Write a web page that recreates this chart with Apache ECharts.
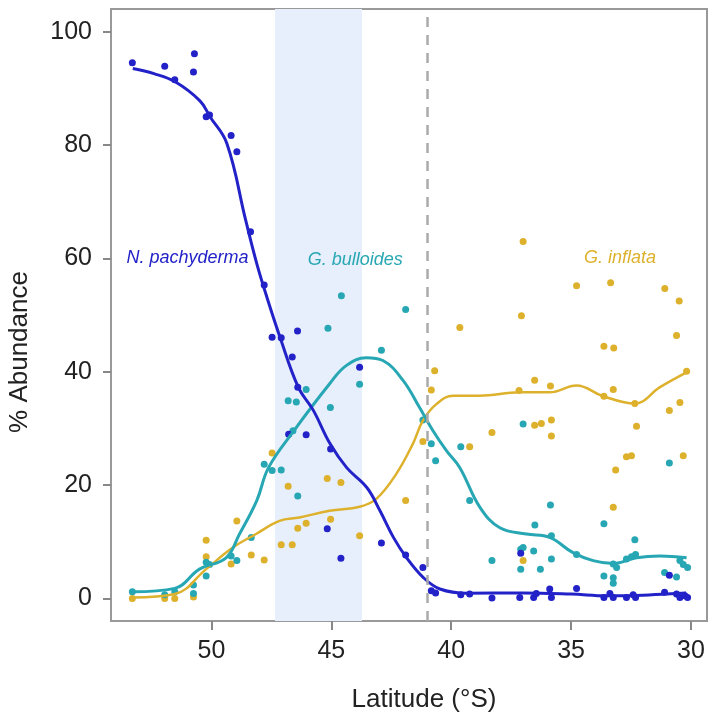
<!DOCTYPE html>
<html>
<head>
<meta charset="utf-8">
<script src="https://cdn.jsdelivr.net/npm/echarts@6/dist/echarts.min.js"></script>
<style>
  html, body { margin: 0; padding: 0; background: #fff; }
  #chart { width: 709px; height: 714px; }
</style>
</head>
<body>
<div id="chart"></div>
<script>
// latitude ticks and abundance ticks
var xTicks = [50, 45, 40, 35, 30];
var yTicks = [0, 20, 40, 60, 80, 100];

// shaded band and dashed front
var bandRange = [47.35, 43.72];
var frontLat = 41.0;

// N. pachyderma samples [lat, %]
var pachyPts = [[53.3,94.5],[51.95,93.9],[50.71,96.1],[50.75,92.9],[51.53,91.5],[50.22,85.0],[50.08,85.3],
  [49.18,81.7],[48.94,78.8],[48.37,64.7],[47.8,55.3],[47.47,46.1],[47.09,46.0],[46.63,42.6],[46.41,47.2],
  [46.4,37.3],[43.82,40.8],[46.78,29.0],[46.05,28.9],[45.03,26.4],[45.17,12.3],[44.6,7.1],[42.91,9.8],
  [41.9,7.7],[41.18,5.5],[40.83,1.4],[40.65,1.0],[39.6,0.7],[39.23,0.8],[38.3,0.1],[37.1,8.0],[37.14,0.2],
  [36.56,0.2],[36.45,0.9],[35.89,1.7],[35.82,0.2],[34.77,1.8],[33.63,0.2],[33.38,0.9],[33.24,0.2],
  [32.69,0.2],[32.41,0.7],[32.31,0.2],[31.1,1.1],[30.9,4.1],[30.6,0.8],[30.46,0.2],[30.25,0.5],[30.14,0.2]];
// G. bulloides samples
var bullPts = [[53.3,1.2],[51.95,0.7],[51.53,1.2],[50.75,2.4],[50.75,0.9],[50.22,6.4],[50.08,6.0],[50.22,4.0],
  [49.18,7.5],[48.94,6.7],[48.34,10.8],[47.8,23.7],[47.47,22.6],[47.09,22.7],[46.4,18.1],[46.8,34.9],
  [46.46,34.7],[44.58,53.4],[45.14,47.7],[46.05,36.9],[45.04,33.7],[43.82,37.8],[42.91,43.8],[41.9,51.0],
  [41.18,31.5],[40.83,27.3],[46.6,29.6],[40.65,24.3],[39.6,26.8],[39.23,17.3],[38.3,6.7],[37.0,30.8],
  [37.1,8.7],[37.0,9.0],[37.1,5.2],[36.51,13.0],[36.56,8.4],[36.28,5.2],[35.86,16.5],[35.82,11.1],
  [35.82,7.0],[34.77,7.8],[33.63,13.2],[33.63,4.0],[33.24,6.1],[33.24,3.7],[33.24,2.7],[33.1,5.5],
  [32.69,7.0],[32.48,7.4],[32.31,7.8],[32.34,10.4],[31.1,4.6],[30.9,23.9],[30.6,3.8],[30.46,6.7],
  [30.32,6.0],[30.14,5.5]];
// G. inflata samples
var inflPts = [[53.3,0.0],[51.95,0.0],[51.53,0.0],[50.75,0.3],[50.22,10.3],[50.22,7.4],[49.18,6.1],[48.94,13.7],
  [48.34,7.7],[47.8,6.8],[47.47,25.7],[47.09,9.5],[46.63,9.5],[46.8,19.8],[46.4,12.4],[46.05,13.3],
  [45.17,21.2],[44.6,20.5],[45.03,14.0],[43.82,11.1],[41.9,17.3],[41.18,27.7],[39.23,26.8],[39.64,47.8],
  [40.69,40.2],[40.83,36.8],[37.0,63.0],[37.07,49.9],[34.77,55.2],[33.35,55.7],[31.09,54.7],[30.49,52.5],
  [30.6,46.4],[33.63,44.5],[33.22,44.2],[36.52,38.5],[35.86,37.5],[37.17,36.7],[33.24,36.9],[33.63,35.7],
  [32.34,34.4],[30.18,40.1],[30.46,34.6],[30.9,33.2],[38.3,29.3],[36.52,30.6],[36.24,30.9],[35.82,31.5],
  [35.82,28.7],[32.27,30.4],[33.14,22.7],[32.69,25.0],[32.48,25.2],[33.24,16.1],[30.32,25.2],[37.0,6.7]];

// smoothed fits
var pachyFit = [[53.28,93.5],[52.4,92.6],[51.53,91.2],[50.48,87.8],[50.06,85.0],[49.36,80.3],[48.57,66.7],
  [48.11,59.1],[47.69,53.2],[47.14,46.1],[46.38,37.3],[45.75,33.2],[45.05,27.3],[44.36,23.1],[43.52,19.6],
  [42.97,15.5],[42.41,10.8],[41.86,7.2],[41.16,3.7],[40.47,1.7],[39.35,0.95],[37.0,1.0],[35.0,0.8],
  [33.5,0.5],[32.0,0.6],[30.2,1.0]];
var bullFit = [[53.3,1.2],[51.53,1.8],[50.5,5.2],[49.39,7.2],[48.83,11.4],[48.11,17.3],[47.62,23.1],
  [46.58,29.5],[45.07,37.9],[44.38,41.1],[43.54,42.5],[42.85,42.0],[42.01,38.5],[41.32,33.7],[40.76,29.6],
  [40.2,26.1],[39.64,23.1],[38.8,16.1],[37.97,12.5],[36.86,11.4],[35.89,10.8],[34.92,8.1],[34.08,6.7],
  [33.24,6.2],[32.27,7.2],[31.29,7.5],[30.18,7.2]];
var inflFit = [[53.3,0.2],[51.53,0.8],[50.22,5.2],[49.11,9.0],[48.14,11.4],[47.16,13.7],[46.33,14.3],
  [45.07,15.5],[43.82,16.2],[43.12,17.6],[42.29,22.0],[41.6,27.3],[41.18,31.4],[40.62,34.3],[39.92,35.8],
  [38.81,35.8],[37.14,36.4],[35.89,36.4],[34.77,37.6],[33.66,35.7],[32.34,34.4],[31.29,37.3],[30.18,39.9]];

// species labels [name, lat, %]
var speciesLabels = [['N. pachyderma', 51.0, 60.0], ['G. bulloides', 44.0, 59.8], ['G. inflata', 32.96, 60.0]];

var cBlue = '#2222c8', cCyan = '#27a7b3', cGold = '#ddb12c';
var font = 'Liberation Sans, Arial, Helvetica, sans-serif';

function labelPoint(i, color) {
  return {
    symbol: 'circle', symbolSize: 0,
    label: { show: true, position: 'inside', formatter: '{b}', color: color,
      fontStyle: 'italic', fontSize: 18, fontFamily: font },
    data: [{ name: speciesLabels[i][0], coord: [speciesLabels[i][1], speciesLabels[i][2]] }]
  };
}

var chart = echarts.init(document.getElementById('chart'));
chart.setOption({
  animation: false,
  backgroundColor: '#fff',
  grid: { left: 111, right: 2, top: 9, bottom: 93, show: true, borderColor: '#999', borderWidth: 2 },
  xAxis: {
    type: 'value', inverse: true, min: 29.33, max: 54.19,
    axisLine: { show: true, onZero: false, lineStyle: { color: '#999', width: 2 } },
    splitLine: { show: false },
    axisTick: { show: true, length: 9, customValues: xTicks, lineStyle: { color: '#888', width: 2 } },
    axisLabel: { customValues: xTicks, margin: 18, fontSize: 25, color: '#222', fontFamily: font }
  },
  yAxis: {
    type: 'value', min: -3.95, max: 104,
    axisLine: { show: true, onZero: false, lineStyle: { color: '#999', width: 2 } },
    splitLine: { show: false },
    axisTick: { show: true, length: 8, customValues: yTicks, lineStyle: { color: '#888', width: 2 } },
    axisLabel: { customValues: yTicks, margin: 19, fontSize: 25, color: '#222', fontFamily: font }
  },
  graphic: [
    { type: 'text', x: 20, y: 352, rotation: Math.PI / 2,
      style: { text: '% Abundance', font: '26px ' + font, fill: '#222', align: 'center', verticalAlign: 'middle' } },
    { type: 'text', x: 424, y: 700,
      style: { text: 'Latitude (°S)', font: '26px ' + font, fill: '#222', align: 'center', verticalAlign: 'middle' } }
  ],
  series: [
    { type: 'scatter', data: inflPts, symbolSize: 7, itemStyle: { color: cGold, opacity: 1 }, z: 3,
      markArea: { silent: true, itemStyle: { color: '#e7effc' },
        data: [[{ xAxis: bandRange[0] }, { xAxis: bandRange[1] }]] },
      markLine: { silent: true, symbol: 'none', label: { show: false },
        lineStyle: { color: '#aaa', type: [10, 8], width: 2.5 }, data: [{ xAxis: frontLat }] },
      markPoint: labelPoint(2, cGold) },
    { type: 'scatter', data: bullPts, symbolSize: 7, itemStyle: { color: cCyan, opacity: 1 }, z: 3,
      markPoint: labelPoint(1, cCyan) },
    { type: 'scatter', data: pachyPts, symbolSize: 7, itemStyle: { color: cBlue, opacity: 1 }, z: 3,
      markPoint: labelPoint(0, cBlue) },
    { type: 'line', data: inflFit, smooth: 0.4, showSymbol: false, z: 4, lineStyle: { color: cGold, width: 2.5 } },
    { type: 'line', data: bullFit, smooth: 0.4, showSymbol: false, z: 4, lineStyle: { color: cCyan, width: 3 } },
    { type: 'line', data: pachyFit, smooth: 0.4, showSymbol: false, z: 4, lineStyle: { color: cBlue, width: 3 } }
  ]
});
</script>
</body>
</html>
